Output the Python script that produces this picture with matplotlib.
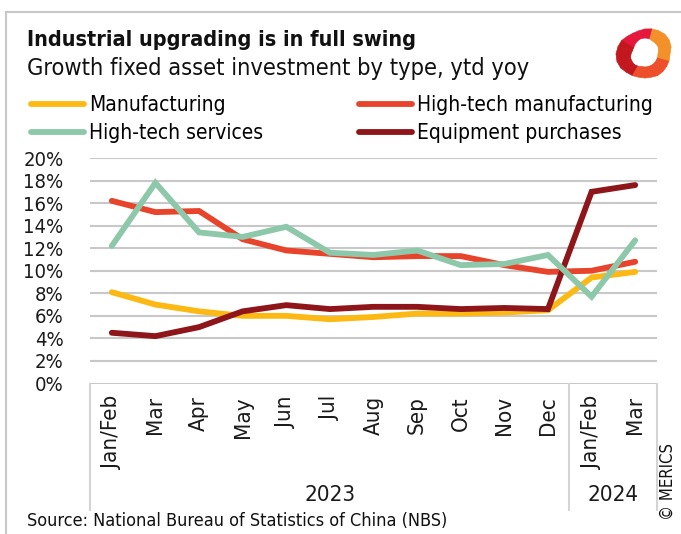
import matplotlib
matplotlib.use("Agg")
import matplotlib.pyplot as plt
from matplotlib import font_manager
from matplotlib.lines import Line2D
from matplotlib.patches import Polygon
import numpy as np

months = ["Jan/Feb", "Mar", "Apr", "May", "Jun", "Jul", "Aug", "Sep", "Oct", "Nov", "Dec", "Jan/Feb", "Mar"]
years = ["2023", "2024"]
manufacturing = [8.1, 7.0, 6.4, 6.0, 6.0, 5.7, 5.9, 6.2, 6.2, 6.3, 6.5, 9.4, 9.9]
hightech_manu = [16.2, 15.2, 15.3, 12.8, 11.8, 11.5, 11.2, 11.3, 11.3, 10.5, 9.9, 10.0, 10.8]
hightech_serv = [12.2, 17.8, 13.4, 13.0, 13.9, 11.6, 11.4, 11.8, 10.5, 10.6, 11.4, 7.7, 12.7]
equipment = [4.5, 4.2, 5.0, 6.4, 6.95, 6.6, 6.8, 6.8, 6.6, 6.7, 6.6, 17.0, 17.6]
yticks = [0, 2, 4, 6, 8, 10, 12, 14, 16, 18, 20]

names = {f.name for f in font_manager.fontManager.ttflist}
if "Liberation Sans Narrow" in names:
    FAM = ["Liberation Sans Narrow", "DejaVu Sans"]
    STR = "normal"
else:
    FAM = ["DejaVu Sans"]
    STR = "condensed"
plt.rcParams["font.family"] = FAM
plt.rcParams["font.stretch"] = STR

W, H = 681, 534
fig = plt.figure(figsize=(W / 100, H / 100), dpi=100)

def fx(px):
    return px / W

def fy(py):
    return 1 - py / H

ax = fig.add_axes([fx(90), fy(383.5), fx(657) - fx(90), fy(158) - fy(383.5)])
x = np.arange(len(months))
series = [
    (manufacturing, "#FDB913", "Manufacturing"),
    (hightech_manu, "#E8432B", "High-tech manufacturing"),
    (hightech_serv, "#8DC8AA", "High-tech services"),
    (equipment, "#8E1519", "Equipment purchases"),
]
handles = {}
for i in [0, 1, 3, 2]:
    vals, col, lab = series[i]
    (ln,) = ax.plot(x, vals, color=col, lw=4.2, solid_capstyle="round", solid_joinstyle="miter", label=lab, zorder=3)
    handles[lab] = ln

ax.set_xlim(-0.5, len(months) - 0.5)
ax.set_ylim(0, 20)
ax.set_yticks(yticks)
ax.set_yticklabels([f"{v}%" for v in yticks], fontsize=14.5, color="#1a1a1a")
ax.set_xticks(x)
ax.set_xticklabels(months, rotation=90, fontsize=16, color="#1a1a1a", va="top")
ax.tick_params(axis="x", length=0, pad=9)
ax.tick_params(axis="y", length=0, pad=19)
for s in ax.spines.values():
    s.set_visible(False)
ax.grid(axis="y", color="#c8c8c8", lw=1.5)
ax.set_axisbelow(True)

# category box lines
gc = "#d4d4d4"
for xp in [90, 569, 657]:
    fig.add_artist(Line2D([fx(xp), fx(xp)], [fy(384), fy(510)], color=gc, lw=1.5))
fig.text(fx(330), fy(495), years[0], fontsize=16, ha="center", va="center", color="#1a1a1a")
fig.text(fx(613), fy(495), years[1], fontsize=16, ha="center", va="center", color="#1a1a1a")

# frame
fig.add_artist(Line2D([fx(6), fx(6)], [fy(12), 0], color="#c8c8c8", lw=1.5))
fig.add_artist(Line2D([fx(6), 1], [fy(12), fy(12)], color="#c8c8c8", lw=1.5))

# titles
fig.text(fx(27), fy(40), "Industrial upgrading is in full swing", fontsize=15.5, fontweight="bold", va="center", ha="left", color="#111111")
fig.text(fx(27), fy(69), "Growth fixed asset investment by type, ytd yoy", fontsize=16.9, va="center", ha="left", color="#111111")

# legend
fig.legend([handles[series[i][2]] for i in [0, 2, 1, 3]],
           [series[i][2] for i in [0, 2, 1, 3]],
           ncol=2, loc="upper left", bbox_to_anchor=(fx(31), fy(95)),
           frameon=False, fontsize=15, handlelength=2.55, handletextpad=0.22,
           columnspacing=4.62, labelspacing=0.38, borderaxespad=0, borderpad=0)

fig.text(fx(27), fy(521), "Source: National Bureau of Statistics of China (NBS)", fontsize=13, va="center", ha="left", color="#111111")
fig.text(fx(668), fy(482), "© MERICS", fontsize=12, rotation=90, va="center", ha="center", color="#111111")

# logo approximation (ring with coloured sectors)
cxl, cyl = 645, 54
ang = np.deg2rad(np.arange(0, 361, 15))
ro_pts = [25, 27, 28, 28, 27, 26, 25, 24, 24, 25, 27, 28, 29, 29, 28, 26, 25, 24, 24, 24, 25, 25, 25, 25, 25]
ri_pts = [13, 14, 15, 15, 15, 16, 16, 16, 15, 14, 13, 13, 14, 15, 15, 15, 14, 13, 13, 13, 13, 13, 13, 13, 13]
def seg_col(a):
    d = np.rad2deg(a) % 360
    if d < 75 or d >= 345:
        return "#F2902A"
    if d < 150:
        return "#E4183C"
    if d < 240:
        return "#C2171F"
    return "#EC4F2A"
for k in range(len(ang) - 1):
    a0, a1 = ang[k], ang[k + 1]
    pts = [(cxl + ro_pts[k] * np.cos(a0), cyl - ro_pts[k] * np.sin(a0)),
           (cxl + ro_pts[k + 1] * np.cos(a1), cyl - ro_pts[k + 1] * np.sin(a1)),
           (cxl + ri_pts[k + 1] * np.cos(a1), cyl - ri_pts[k + 1] * np.sin(a1)),
           (cxl + ri_pts[k] * np.cos(a0), cyl - ri_pts[k] * np.sin(a0))]
    fig.add_artist(Polygon([(fx(a), fy(b)) for a, b in pts], closed=True,
                           facecolor=seg_col((a0 + a1) / 2), edgecolor=seg_col((a0 + a1) / 2),
                           lw=0.5, transform=fig.transFigure))

fig.savefig("out.png", dpi=100)
